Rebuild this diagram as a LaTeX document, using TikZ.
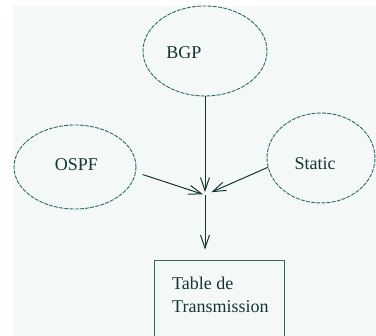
\documentclass[tikz,border=0pt]{standalone}
\usepackage{fontspec}
\setmainfont{Liberation Serif}
\usetikzlibrary{shapes.geometric,arrows.meta}
\definecolor{paper}{HTML}{F4F9F7}
\definecolor{ink}{HTML}{163434}
\definecolor{edge}{HTML}{2C6A6A}
\tikzset{
  >={Straight Barb[length=13pt,width=9pt]},
  x=1pt, y=-1pt,
}
\tikzstyle{proto}=[ellipse,draw=edge,line width=0.9pt,dash pattern=on 4pt off 1.2pt,inner sep=0pt]
\tikzstyle{flow}=[->,draw=ink,line width=1pt]
\tikzstyle{every node}=[font=\fontsize{18}{23}\selectfont,text=ink]

\begin{document}
\begin{tikzpicture}
  \useasboundingbox (0,0) rectangle (376,336);
  \clip (0,0) rectangle (376,336);
  \fill[white] (0,0) rectangle (376,336);
  \fill[paper] (13,6) rectangle (376,336);
  % routing sources
  \node[proto,minimum width=124pt,minimum height=90pt,
    label={[xshift=-21pt,yshift=-1.5pt]center:BGP}] (bgp) at (205,51) {};
  \node[proto,minimum width=122pt,minimum height=84pt,
    label={[xshift=1.5pt,yshift=2pt]center:OSPF}] (ospf) at (75,167) {};
  \node[proto,minimum width=108pt,minimum height=90pt,
    label={[xshift=-6pt,yshift=-6pt]center:Static}] (static) at (321,158) {};
  \coordinate (merge) at (205,195);
  % forwarding table
  \node[draw=edge,line width=0.9pt,minimum width=130pt,minimum height=84pt] (table) at (219,302) {};
  \node[anchor=north west,inner sep=0pt,align=left] (tabletext) at (172,277) {Table de\\Transmission};
  \draw[flow,shorten >=3pt] (bgp) -- (merge);
  \draw[flow,shorten <=7pt,shorten >=2pt] (ospf.355) -- (merge);
  \draw[flow,shorten >=7pt] (static.190) -- (merge);
  \draw[flow,shorten >=10pt] (merge) -- (merge |- table.north);
\end{tikzpicture}
\end{document}
